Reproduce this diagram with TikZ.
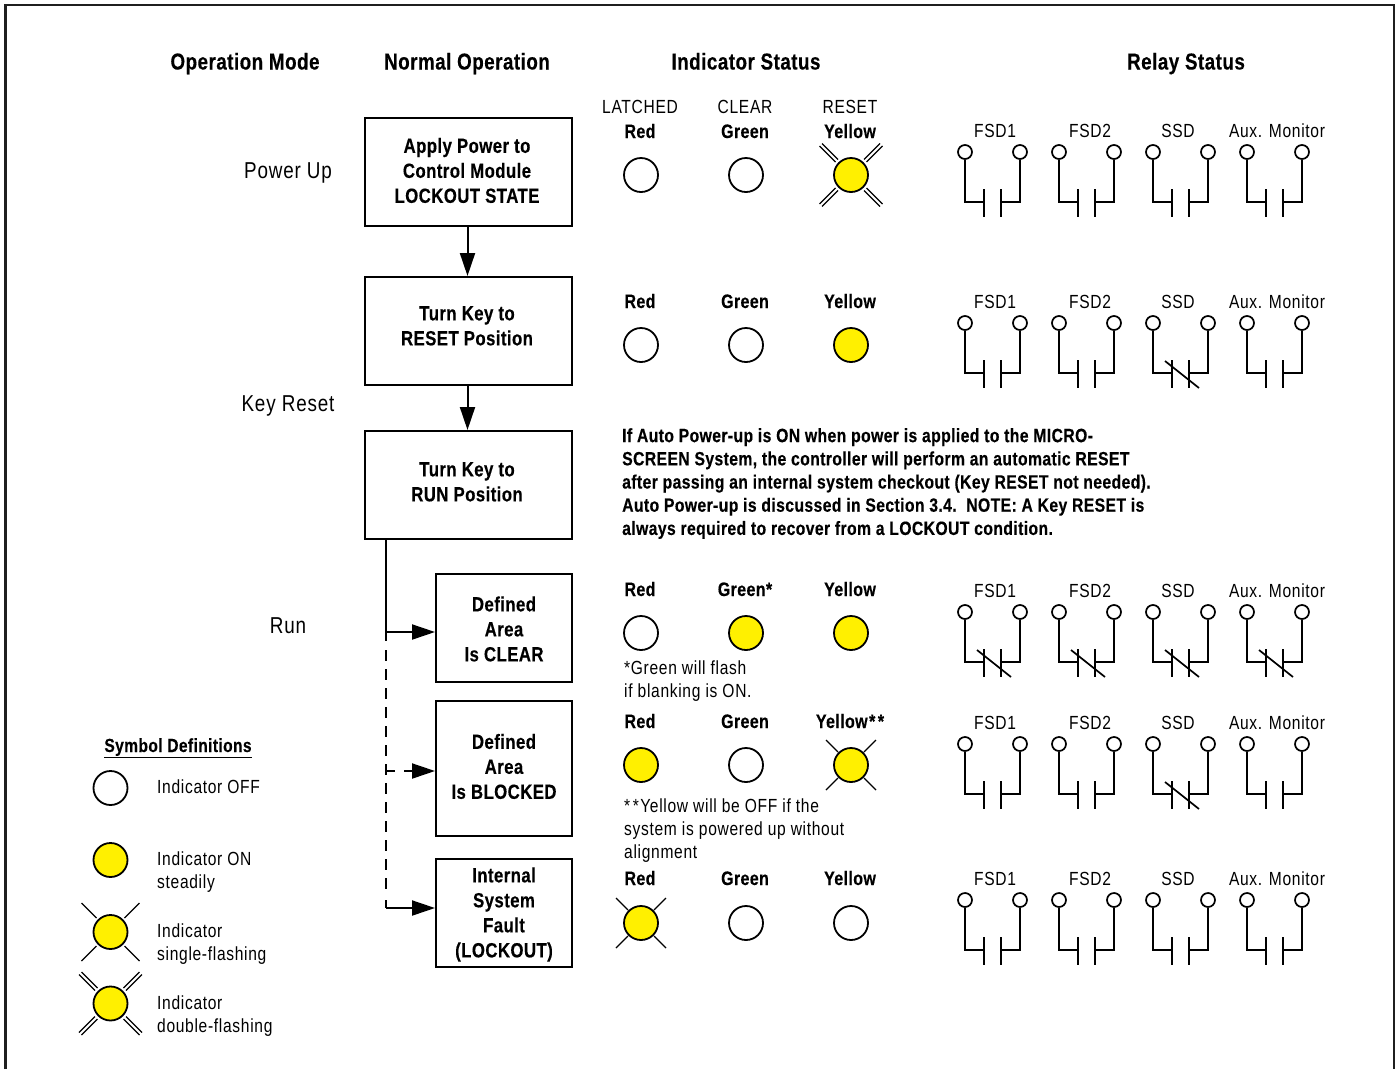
\documentclass[tikz,border=0pt]{standalone}
\usepackage{fontspec}
\setmainfont{Liberation Sans}[FakeStretch=0.82,LetterSpace=3.6,BoldFeatures={LetterSpace=2,FakeBold=0.3}]
\usetikzlibrary{arrows.meta}
\definecolor{ledyellow}{RGB}{255,240,0}
\tikzset{
  x=1pt,y=-1pt,
  frameline/.style={line width=2.5pt,draw=black!88},
  flowbox/.style={draw,line width=2pt,align=center,font=\fontsize{20.5}{25}\selectfont\bfseries,inner sep=0pt},
  head/.style={font=\fontsize{23}{27}\selectfont\bfseries,anchor=base,yshift=-7.5pt},
  modelabel/.style={font=\fontsize{23}{27}\selectfont,anchor=base,yshift=-7pt},
  lab/.style={font=\fontsize{19}{23}\selectfont,anchor=base,yshift=-6pt},
  blab/.style={font=\fontsize{19.5}{23}\selectfont\bfseries,anchor=base,yshift=-6pt},
  small/.style={font=\fontsize{19}{23}\selectfont,align=left,anchor=north west,inner sep=0pt},
  led/.style={circle,draw,line width=1.8pt,minimum size=34pt,inner sep=0pt},
  ledon/.style={led,fill=ledyellow},
  flow/.style={line width=2pt,-{Triangle[length=23pt,width=15pt]}},
  wire/.style={line width=1.7pt},
  term/.style={circle,draw,line width=1.7pt,minimum size=14pt,inner sep=0pt,fill=white},
  ray/.style={line width=1.2pt},
  solidline/.style={line width=2pt},
  dashline/.style={line width=2pt,dash pattern=on 11pt off 8pt}
}
\newcommand{\boxtxt}[3]{\raisebox{#2}[0pt][0pt]{\hspace*{#1}\begin{tabular}{@{}c@{}}#3\end{tabular}}}
% relay: #1 x of left terminal, #2 y of terminals, #3 label, #4 1 = slash, #5 name, #6 label offset
\newcommand{\relaysym}[6]{%
  \node[lab] (#5l) at (#1+#6,#2-20.5) {#3};
  \node[term] (#5a) at (#1,#2) {};
  \node[term] (#5b) at (#1+55,#2) {};
  \coordinate (#5p) at (#1+19,#2+50);
  \coordinate (#5q) at (#1+36,#2+50);
  \draw[wire] (#5a.south) |- (#5p);
  \draw[wire] (#5b.south) |- (#5q);
  \draw[wire] (#1+19,#2+37) -- (#1+19,#2+65);
  \draw[wire] (#1+36,#2+37) -- (#1+36,#2+65);
  \ifnum#4=1 \draw[wire] (#1+12,#2+38) -- (#1+46,#2+65);\fi
}
\newcommand{\relayrow}[5]{%
  \relaysym{965}{#1}{FSD1}{#2}{r#1a}{30}
  \relaysym{1059}{#1}{FSD2}{#3}{r#1b}{31}
  \relaysym{1153}{#1}{SSD}{#4}{r#1c}{25}
  \relaysym{1247}{#1}{Aux. Monitor}{#5}{r#1d}{30}
}
% #1 node, #2 inner offset, #3 length
\newcommand{\singlerays}[3]{%
  \draw[ray] (#1)++(-#2,-#2) -- ++(-#3,-#3);
  \draw[ray] (#1)++(#2,-#2) -- ++(#3,-#3);
  \draw[ray] (#1)++(-#2,#2) -- ++(-#3,#3);
  \draw[ray] (#1)++(#2,#2) -- ++(#3,#3);
}
\newcommand{\doublerays}[1]{%
  \draw[ray] (#1)++(-13,-15.5) -- ++(-16,-16);
  \draw[ray] (#1)++(-15.5,-13) -- ++(-16,-16);
  \draw[ray] (#1)++(13,-15.5) -- ++(16,-16);
  \draw[ray] (#1)++(15.5,-13) -- ++(16,-16);
  \draw[ray] (#1)++(-13,15.5) -- ++(-16,16);
  \draw[ray] (#1)++(-15.5,13) -- ++(-16,16);
  \draw[ray] (#1)++(13,15.5) -- ++(16,16);
  \draw[ray] (#1)++(15.5,13) -- ++(16,16);
}
\begin{document}
\begin{tikzpicture}
\useasboundingbox (0,0) rectangle (1395,1069);
\coordinate (ftl) at (5.5,5);
\coordinate (ftr) at (1394,5);
\coordinate (fbl) at (5.5,1069);
\coordinate (fbr) at (1394,1069);
\draw[frameline] (fbl) -- (ftl) -- (ftr) -- (fbr);

% headers
\node[head] (h1) at (245,62) {Operation Mode};
\node[head] (h2) at (467,62) {Normal Operation};
\node[head] (h3) at (746,62) {Indicator Status};
\node[head] (h4) at (1186,62) {Relay Status};

% modes
\node[modelabel] (m1) at (288,171) {Power Up};
\node[modelabel] (m2) at (288,404) {Key Reset};
\node[modelabel] (m3) at (288,626) {Run};

% boxes
\node[flowbox,minimum width=207pt,minimum height=108pt] (b1) at (468.5,172) {\boxtxt{-3pt}{-6pt}{Apply Power to\\Control Module\\LOCKOUT STATE}};
\node[flowbox,minimum width=207pt,minimum height=108pt] (b2) at (468.5,331) {\boxtxt{-3pt}{-2pt}{Turn Key to\\RESET Position}};
\node[flowbox,minimum width=207pt,minimum height=108pt] (b3) at (468.5,485) {\boxtxt{-3pt}{-4pt}{Turn Key to\\RUN Position}};
\node[flowbox,minimum width=136pt,minimum height=108pt] (b4) at (504,628) {\boxtxt{0pt}{-8.5pt}{Defined\\Area\\Is CLEAR}};
\node[flowbox,minimum width=136pt,minimum height=135pt] (b5) at (504,768.5) {\boxtxt{0pt}{-5.5pt}{Defined\\Area\\Is BLOCKED}};
\node[flowbox,minimum width=136pt,minimum height=108pt] (b6) at (504,913) {\boxtxt{0pt}{-7pt}{Internal\\System\\Fault\\(LOCKOUT)}};

\coordinate (a1) at (467.5,0);
\draw[flow] (b1.south -| a1) -- (b2.north -| a1);
\draw[flow] (b2.south -| a1) -- (b3.north -| a1);
\coordinate (t0) at (385.5,539);
\coordinate (t0e) at (385.5,641);
\coordinate (d0) at (385.5,650);
\coordinate (d1) at (385.5,895);
\coordinate (t1) at (385.5,632);
\coordinate (t2) at (385.5,771);
\coordinate (t3) at (385.5,908);
\coordinate (t2a) at (395,771);
\coordinate (t2b) at (404,771);
\coordinate (t3a) at (385.5,900);
\draw[solidline] (t0) -- (t0e);
\draw[flow] (t1) -- (t1 -| b4.west);
\draw[dashline] (d0) -- (d1);
\draw[solidline] (t2) -- (t2a);
\draw[flow] (t2b) -- (b5.west |- t2);
\draw[solidline] (t3a) -- (t3);
\draw[flow] (t3) -- (t3 -| b6.west);

% row 1
\node[lab] at (640,107) {LATCHED};
\node[lab] at (745,107) {CLEAR};
\node[lab] at (850,107) {RESET};
\node[blab] at (640,132) {Red};
\node[blab] at (745,132) {Green};
\node[blab] at (850,132) {Yellow};
\node[led] (i1a) at (641,175) {};
\node[led] (i1b) at (746,175) {};
\node[ledon] (i1c) at (851,175) {};
\doublerays{i1c}
\relayrow{152}{0}{0}{0}{0}

% row 2
\node[blab] at (640,302) {Red};
\node[blab] at (745,302) {Green};
\node[blab] at (850,302) {Yellow};
\node[led] (i2a) at (641,345) {};
\node[led] (i2b) at (746,345) {};
\node[ledon] (i2c) at (851,345) {};
\relayrow{323}{0}{0}{1}{0}

% note
\node[font=\fontsize{19.2}{23.2}\selectfont\bfseries,align=left,anchor=north west,inner sep=0pt] (note) at (622,428) {If Auto Power-up is ON when power is applied to the MICRO-\\SCREEN System, the controller will perform an automatic RESET\\after passing an internal system checkout (Key RESET not needed).\\Auto Power-up is discussed in Section 3.4.\ \ NOTE: A Key RESET is\\always required to recover from a LOCKOUT condition.};

% row 3
\node[blab] at (640,590) {Red};
\node[blab] at (745,590) {Green*};
\node[blab] at (850,590) {Yellow};
\node[led] (i3a) at (641,633) {};
\node[ledon] (i3b) at (746,633) {};
\node[ledon] (i3c) at (851,633) {};
\node[small] (n3) at (624,661) {*Green will flash\\if blanking is ON.};
\relayrow{612}{1}{1}{1}{1}

% row 4
\node[blab] at (640,722) {Red};
\node[blab] at (745,722) {Green};
\node[blab] at (850,722) {Yellow\kern1.5pt*\kern2.5pt*};
\node[ledon] (i4a) at (641,765) {};
\node[led] (i4b) at (746,765) {};
\node[ledon] (i4c) at (851,765) {};
\singlerays{i4c}{13}{12}
\node[small] (n4) at (624,799) {*\kern2.5pt*\kern1.5pt Yellow will be OFF if the\\system is powered up without\\alignment};
\relayrow{744}{0}{0}{1}{0}

% row 5
\node[blab] at (640,879) {Red};
\node[blab] at (745,879) {Green};
\node[blab] at (850,879) {Yellow};
\node[ledon] (i5a) at (641,923) {};
\node[led] (i5b) at (746,923) {};
\node[led] (i5c) at (851,923) {};
\singlerays{i5a}{13}{12}
\relayrow{900}{0}{0}{0}{0}

% legend
\node[blab,font=\fontsize{19}{23}\selectfont\bfseries,yshift=-1pt] (lt) at (178,745) {\underline{Symbol Definitions}};
\node[led] (l1) at (110.5,788) {};
\node[ledon] (l2) at (110.5,860) {};
\node[ledon] (l3) at (110.5,932) {};
\node[ledon] (l4) at (110.5,1003.5) {};
\singlerays{l3}{14}{15}
\doublerays{l4}
\node[small] (t1n) at (157,780) {Indicator OFF};
\node[small] (t2n) at (157,852) {Indicator ON\\steadily};
\node[small] (t3n) at (157,924) {Indicator\\single-flashing};
\node[small] (t4n) at (157,996) {Indicator\\double-flashing};
\end{tikzpicture}
\end{document}
